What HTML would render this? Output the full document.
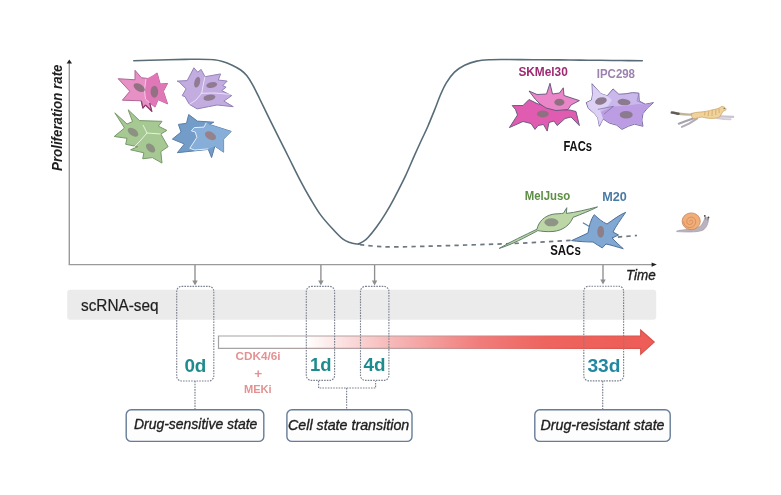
<!DOCTYPE html>
<html><head><meta charset="utf-8">
<style>
html,body{margin:0;padding:0;background:#fff;}
body{width:781px;height:495px;overflow:hidden;position:relative;}
svg{position:absolute;left:0;top:0;filter:blur(0.35px);}
text{font-family:"Liberation Sans",sans-serif;}
</style></head>
<body>
<svg width="781" height="495" viewBox="0 0 781 495">
<defs>
  <linearGradient id="rg" x1="218" y1="0" x2="655" y2="0" gradientUnits="userSpaceOnUse">
    <stop offset="0" stop-color="#ffffff"/>
    <stop offset="0.2" stop-color="#ffffff"/>
    <stop offset="0.39" stop-color="#f7baba"/>
    <stop offset="0.6" stop-color="#f07c7a"/>
    <stop offset="0.75" stop-color="#ee645e"/>
    <stop offset="1" stop-color="#ee5c56"/>
  </linearGradient>
  <linearGradient id="rgs" x1="218" y1="0" x2="655" y2="0" gradientUnits="userSpaceOnUse">
    <stop offset="0" stop-color="#a4a4a4"/>
    <stop offset="0.45" stop-color="#bca0a0"/>
    <stop offset="0.62" stop-color="#d88080"/>
    <stop offset="0.78" stop-color="#e0605c"/>
    <stop offset="1" stop-color="#d8504c"/>
  </linearGradient>
</defs>

<!-- gray band -->
<rect x="67.2" y="289.8" width="589" height="29.9" rx="3" fill="#ebebeb"/>

<!-- red gradient arrow -->
<path d="M218.5,336 L640.7,336 L640.7,330 L654.2,342.1 L640.7,354.2 L640.7,348.4 L218.5,348.4 Z" fill="url(#rg)" stroke="url(#rgs)" stroke-width="1.2"/>

<!-- axes -->
<line x1="69.3" y1="63" x2="69.3" y2="264.6" stroke="#9a9a9a" stroke-width="1.4"/>
<line x1="68.6" y1="264.6" x2="652" y2="264.6" stroke="#9a9a9a" stroke-width="1.4"/>
<path d="M69.3,59.4 L72,63.6 L66.6,63.6 Z" fill="#222"/>
<path d="M656.8,264.6 L651.6,262.4 L651.6,266.8 Z" fill="#222"/>

<!-- proliferation curve -->
<g fill="none" stroke="#586c78" stroke-width="1.6" stroke-linecap="round">
<path d="M133.8,60.8 C138.2,60.7 151.5,60.2 160.0,60.0 C168.5,59.8 178.6,59.5 185.0,59.4 C191.4,59.3 193.4,59.2 198.2,59.2 C203.0,59.2 209.9,59.3 214.0,59.7 C218.1,60.1 219.5,60.5 222.5,61.4 C225.5,62.3 229.2,63.8 232.2,65.2 C235.2,66.6 238.3,68.3 240.7,70.0 C243.1,71.7 244.7,73.1 246.7,75.6 C248.7,78.1 250.7,81.4 252.8,85.2 C254.9,89.0 256.6,92.6 259.5,98.5 C262.4,104.4 266.8,113.5 270.3,120.6 C273.8,127.6 277.2,134.4 280.4,140.8 C283.6,147.2 286.2,152.4 289.5,159.0 C292.8,165.6 296.7,173.7 300.2,180.3 C303.7,186.9 306.9,192.8 310.3,198.5 C313.7,204.2 316.7,209.5 320.4,214.6 C324.1,219.7 328.8,224.8 332.5,228.8 C336.2,232.9 339.7,236.6 342.6,238.9 C345.5,241.2 347.9,241.8 350.0,242.6 C352.1,243.4 353.4,243.6 355.0,243.8 C356.6,244.0 358.8,244.0 359.5,244.0"/>
<path d="M358.5,244.1 C359.2,243.7 361.4,242.6 363.0,241.6 C364.6,240.6 365.5,240.3 367.8,237.8 C370.1,235.3 373.7,230.8 376.7,226.7 C379.7,222.6 382.7,218.1 385.6,213.3 C388.6,208.5 391.1,204.1 394.4,197.8 C397.7,191.5 402.3,182.6 405.6,175.6 C408.9,168.6 411.6,161.8 414.4,155.6 C417.2,149.4 419.9,143.4 422.2,138.5 C424.5,133.6 426.0,130.7 428.0,126.0 C430.0,121.3 432.2,115.8 434.3,110.6 C436.4,105.4 438.4,99.7 440.4,95.0 C442.4,90.3 444.1,86.4 446.5,82.6 C448.9,78.8 451.5,75.1 454.5,72.2 C457.5,69.3 460.9,67.0 464.6,65.2 C468.3,63.4 472.4,62.0 476.8,61.1 C481.2,60.2 486.2,60.0 490.9,59.7 C495.6,59.4 500.1,59.5 505.0,59.5 C509.9,59.5 514.2,59.6 520.0,59.6 C525.8,59.6 533.3,59.7 540.0,59.8 C546.7,59.8 553.3,59.8 560.0,59.9 C566.7,60.0 573.3,60.0 580.0,60.1 C586.7,60.2 593.2,60.2 600.0,60.3 C606.8,60.4 614.0,60.5 621.0,60.5 C628.0,60.6 638.8,60.8 642.3,60.8"/>
</g>
<path d="M360,244.6 C372,246.2 385,247.2 400,246.9 C430,246.2 470,245 510,243.6 C550,242 595,239 637,235.5" fill="none" stroke="#6c7882" stroke-width="1.7" stroke-dasharray="4.4,4.2"/>

<!-- down arrows from x-axis -->
<g stroke="#8e8e8e" stroke-width="1.35" fill="#8e8e8e">
<line x1="195" y1="265" x2="195" y2="281"/><path d="M195,285.5 L192.3,280.5 L197.7,280.5 Z" stroke="none"/>
<line x1="320.9" y1="265" x2="320.9" y2="281"/><path d="M320.9,285.5 L318.2,280.5 L323.6,280.5 Z" stroke="none"/>
<line x1="374.6" y1="265" x2="374.6" y2="281"/><path d="M374.6,285.5 L371.9,280.5 L377.3,280.5 Z" stroke="none"/>
<line x1="603" y1="265" x2="603" y2="280"/><path d="M603,284.5 L600.3,279.5 L605.7,279.5 Z" stroke="none"/>
</g>

<!-- dashed day boxes -->
<g fill="none" stroke="#7a828e" stroke-width="1.15" stroke-dasharray="1.6,1.1">
<rect x="176.7" y="286.4" width="37.1" height="94.6" rx="5"/>
<rect x="306.3" y="286.4" width="28.3" height="94" rx="5"/>
<rect x="360.5" y="286.4" width="28.4" height="94" rx="5"/>
<rect x="583.8" y="286.2" width="39.8" height="94.6" rx="5"/>
<path d="M195,381 V409.3"/>
<path d="M602.7,381 V409.3"/>
<path d="M318.6,381 V388 H375.6 V381"/>
<path d="M346.6,388 V409.3"/>
</g>

<!-- label boxes -->
<g fill="#fdfdfe" stroke="#677c98" stroke-width="1.4">
<rect x="126.2" y="409.8" width="137.6" height="31.6" rx="5"/>
<rect x="286.9" y="409.8" width="125.1" height="31.6" rx="5"/>
<rect x="534.8" y="409.8" width="135.4" height="31.6" rx="5"/>
</g>

<!-- texts -->
<text transform="translate(62.2,171) rotate(-90)" font-size="13.8" font-weight="bold" font-style="italic" fill="#1e1e1e" textLength="106.5" lengthAdjust="spacingAndGlyphs">Proliferation rate</text>
<text x="626" y="279.8" font-size="14" font-style="italic" fill="#1e1e1e" stroke="#1e1e1e" stroke-width="0.35" textLength="29.8" lengthAdjust="spacingAndGlyphs">Time</text>
<text x="81" y="310.8" font-size="16" fill="#1e1e1e" stroke="#1e1e1e" stroke-width="0.2" textLength="77.6" lengthAdjust="spacingAndGlyphs">scRNA-seq</text>
<g font-weight="bold" fill="#1e8c8e">
<text x="184.4" y="371.8" font-size="18.5" textLength="22" lengthAdjust="spacingAndGlyphs">0d</text>
<text x="310" y="371" font-size="18.5" textLength="21.5" lengthAdjust="spacingAndGlyphs">1d</text>
<text x="363.5" y="371" font-size="18.5" textLength="22" lengthAdjust="spacingAndGlyphs">4d</text>
<text x="587.4" y="371.8" font-size="18.5" textLength="33" lengthAdjust="spacingAndGlyphs" fill="#2288a2">33d</text>
</g>
<g fill="#e39294" font-size="10.5" font-weight="bold">
<text x="235.6" y="360.2" textLength="45" lengthAdjust="spacingAndGlyphs">CDK4/6i</text>
<text x="254.2" y="378" font-size="13.5">+</text>
<text x="243.9" y="392.8" textLength="27.8" lengthAdjust="spacingAndGlyphs">MEKi</text>
</g>
<g font-size="14.2" font-style="italic" fill="#1e1e1e" stroke="#1e1e1e" stroke-width="0.35">
<text x="133.9" y="428.8" textLength="123.5" lengthAdjust="spacingAndGlyphs">Drug-sensitive state</text>
<text x="288" y="429.8" textLength="121.3" lengthAdjust="spacingAndGlyphs">Cell state transition</text>
<text x="540.5" y="429.9" textLength="124" lengthAdjust="spacingAndGlyphs">Drug-resistant state</text>
</g>
<g font-weight="bold">
<text x="518.4" y="76.3" font-size="12.2" fill="#9e2a72" textLength="49.4" lengthAdjust="spacingAndGlyphs">SKMel30</text>
<text x="596.8" y="77.9" font-size="12.2" fill="#9c82ae" textLength="38.2" lengthAdjust="spacingAndGlyphs">IPC298</text>
<text x="563.4" y="150.6" font-size="14.2" fill="#111" textLength="28.6" lengthAdjust="spacingAndGlyphs">FACs</text>
<text x="524.7" y="200" font-size="12.3" fill="#5e8e46" textLength="45.6" lengthAdjust="spacingAndGlyphs">MelJuso</text>
<text x="602.3" y="200.9" font-size="12.3" fill="#4a7aa2" textLength="24.6" lengthAdjust="spacingAndGlyphs">M20</text>
<text x="550.2" y="255.3" font-size="14.2" fill="#111" textLength="30.6" lengthAdjust="spacingAndGlyphs">SACs</text>
</g>

<!-- CELLS: pink cluster -->
<g stroke-linejoin="round">
<path d="M118.2,78.7 L135,79.8 L135,70.3 L141.3,77.7 L149.7,78.7 L157.1,72.9 L160.2,84 L167.6,83.4 L163.4,91.3 L167.6,103.9 L158.1,99.7 L155,107.1 L149.7,102.9 L151.8,111.3 L145.5,105 L142.9,108.1 L141.3,100.8 L122.4,100.2 L129.8,91.3 Z" fill="#e690c6" stroke="#b06692" stroke-width="1"/>
<path d="M146,79 L157.1,72.9 L160.2,84 L167.6,83.4 L163.4,91.3 L167.6,103.9 L158.1,99.7 L155,107.1 L149.7,102.9 L145.5,99 L144.5,90 Z" fill="#e078b8"/>
<path d="M146,79 L144.5,90 L145.5,99 L149.7,102.9" fill="none" stroke="#f6d0e8" stroke-width="0.9"/>
<path d="M149.7,102.9 L151.8,111.3 L145.5,105 M145.5,105 L142.9,108.1 L141.3,100.8" fill="none" stroke="#8a3c6c" stroke-width="1.2"/>
<ellipse cx="139.2" cy="87.6" rx="6.2" ry="3.5" transform="rotate(30 139.2 87.6)" fill="#907282"/>
<ellipse cx="154.4" cy="91.8" rx="3.8" ry="6" fill="#907282"/>

<!-- purple cluster -->
<path d="M177.2,81.1 L187.2,80.6 L193.9,67.8 L197.8,72.2 L201.1,69.4 L205,76.7 L220.6,73.9 L218.3,80 L227.2,81.1 L222.8,85.6 L226.1,87.2 L221.7,90.6 L231.7,95.6 L223.9,101.1 L233.3,106.7 L217.2,105 L208.3,106.7 L197.2,108.9 L189.4,104.4 L185,96.7 L182.2,95.6 L186.1,88.9 L179.4,82.2 Z" fill="#c2ace0" stroke="#9282b8" stroke-width="1"/>
<path d="M205,76.7 L203,86 L201.7,93.3 M200.6,93.3 L215,93 L230.6,94.4 M201.7,93.3 L196,100 L189.4,104.4" fill="none" stroke="#efe6fa" stroke-width="0.9"/>
<ellipse cx="197.2" cy="82.2" rx="2.8" ry="5.5" transform="rotate(15 197.2 82.2)" fill="#907c92"/>
<ellipse cx="211.7" cy="85" rx="5.5" ry="2.8" transform="rotate(-10 211.7 85)" fill="#907c92"/>
<ellipse cx="209.4" cy="97.6" rx="6" ry="3" transform="rotate(-10 209.4 97.6)" fill="#907c92"/>

<!-- green cluster -->
<path d="M114.8,112.8 L127,124 L132.5,121.6 L128.2,109.8 L139.5,120.6 L162,121.3 L158.4,126.2 L166.9,130.4 L160.8,134 L168.1,146.7 L160.8,151.6 L162,163.1 L152.4,157.6 L142.7,158.8 L143.9,152.8 L130.6,149.8 L137.8,146.7 L125.7,144.3 L127,138.3 L114.2,136.5 L124.5,128 Z" fill="#a6c892" stroke="#78986a" stroke-width="1"/>
<path d="M143,125 L147,133 L140,141 L133,148 M147,133 L160.8,134" fill="none" stroke="#eef6e8" stroke-width="0.9"/>
<ellipse cx="133" cy="132.2" rx="6" ry="3.5" transform="rotate(35 133 132.2)" fill="#8c9282"/>
<ellipse cx="150.6" cy="148" rx="5.5" ry="3.5" transform="rotate(45 150.6 148)" fill="#8c9282"/>

<!-- blue cluster -->
<path d="M188.7,114.5 L197.4,121.1 L213.8,122.2 L209.4,124.4 L231.2,131.4 L223.6,139.1 L223.6,152.2 L214.9,146.2 L211.6,157.6 L208.3,149.4 L177.3,152.7 L184.4,144 L172.4,139.1 L181.1,132 L178.4,124.4 L186.5,123.3 Z" fill="#739cc8" stroke="#587ea6" stroke-width="1"/>
<path d="M206.2,122.7 L209.4,124.4 L231.2,131.4 L223.6,139.1 L223.6,152.2 L214.9,146.2 L208.3,148.9 L194.7,150 L189.8,148.3 L196.9,137.4 L195.3,132 L191.4,130.9 L194.2,127.6 L204,127.1 Z" fill="#86aed8" stroke="none"/>
<path d="M206.2,122.7 L204,127.1 L194.2,127.6 L191.4,130.9 L195.3,132 L196.9,137.4 L189.8,148.3 L194.7,150 L208.3,148.9" fill="none" stroke="#e2eefa" stroke-width="1"/>
<ellipse cx="210.5" cy="135.8" rx="6" ry="3.8" transform="rotate(30 210.5 135.8)" fill="#96828a"/>

<!-- SKMel30 magenta -->
<g stroke="#5e5478" stroke-width="0.9" stroke-linejoin="miter" stroke-miterlimit="10">
<path d="M512.2,105.6 L523,105.5 L529,99.5 L537,103.5 L548,107 L560,109.5 L570,110 L576,111.5 L579.4,125.6 L571,117 L565,118.5 L557.2,125.6 L554,121 L549,122.5 L547.2,131.1 L543.5,124.5 L538,125.5 L535,129.4 L531,123.5 L523,121.5 L509.4,127.6 L517.5,115 L515.5,109.5 Z" fill="#e05cb0"/>
<path d="M529,91 L537,94.5 L546.5,94 L550,83.3 L552.5,94 L559.5,93 L563.3,87.8 L564,95.5 L570,97.5 L579.4,100.6 L571,105 L568,109.5 L556,110.5 L546,108 L540,104 L535.5,99.5 Z" fill="#ea86c8"/>
</g>
<ellipse cx="559.4" cy="102.2" rx="5" ry="3.5" fill="#8e7080"/>
<ellipse cx="542.8" cy="113.9" rx="6" ry="3.5" fill="#8e7080"/>

<!-- IPC298 lavender -->
<g stroke-linejoin="round">
<path d="M592,83.7 L600.9,93.7 L607.2,95.8 L613,88.9 L618.8,94.2 L626.2,93.7 L632.5,92.6 L638.8,93.1 L639.3,101 L645.1,104.2 L653.5,102.6 L647.2,108.4 L643,113.6 L641.9,120 L643,126.3 L634.6,124.2 L628.3,126.3 L622,129.4 L616.7,125.2 L609.3,123.1 L603,118.9 L599.4,126.3 L597.8,117.9 L594.6,113.6 L588.3,108.4 L586.2,102.6 L591.5,100 L592.5,94.7 Z" fill="#cab8ec" stroke="#7e72a4" stroke-width="1"/>
<path d="M592.5,85 L600.9,93.7 L607.2,95.8 L612,100 L608,106 L600,110.5 L603,118.9 L599.4,125.5 L597.8,117.9 L594.6,113.6 L588.5,108 L587,102.8 L591.8,100 L592.8,94.7 Z" fill="#dcd0f4"/>
<path d="M601,112 L612,106.5 L625,106 L638,104 L645.1,104.4 L652,103.2 L646.6,108.2 L642.4,113.6 L641.3,120 L642.2,125.5 L634.6,123.6 L628.3,125.6 L622,128.6 L616.9,124.6 L609.5,122.5 L603.4,118.6 Z" fill="#bc9ce2"/>
<path d="M597.8,109.4 L613.5,106.3 L604,114" fill="none" stroke="#8072a8" stroke-width="0.8"/>
<path d="M638.8,93.5 L637,101 L645,104" fill="none" stroke="#8c80b4" stroke-width="0.7"/>
</g>
<ellipse cx="600.9" cy="101" rx="6" ry="3.5" transform="rotate(-15 600.9 101)" fill="#8c7a8e"/>
<ellipse cx="624" cy="102.1" rx="6.5" ry="3.2" transform="rotate(5 624 102.1)" fill="#8c7a8e"/>
<ellipse cx="626.2" cy="114.7" rx="6.5" ry="3.8" fill="#8c7a8e"/>

<!-- MelJuso spindle -->
<path d="M499.2,248.4 C510,242 525,235 537,229.2 C538.5,222 544,216 553,214.2 C557,213.6 561,213.8 563.5,213.2 L566.8,207.7 L566.4,213.4 C575,212.6 587,209.5 597.5,206.9 C590,210.8 581,214.2 573,217.4 C570,225 563,230.5 553,231.5 C546,232 541,231.2 537.8,230.6 C525,237.5 512,244.5 499.2,248.4 Z" fill="#bcd6a6" stroke="#62806a" stroke-width="1"/>
<ellipse cx="551.4" cy="222.3" rx="7" ry="4" fill="#8e9486"/>

<!-- M20 blue -->
<path d="M582.9,222.8 L592,228" stroke="#5a80aa" stroke-width="1.2"/>
<path d="M571.6,240.6 L588,233 C589,226 591,219 594.2,214.7 C598,218 602,222 607,224 C613,220 619,215 625.7,212.3 C621,219 616,226 613,232 L618.5,235 L612,238 C616,242 620,246 623.3,248.7 C617,247 611,245 606,244 L602.3,247.9 C599,246 596,244 593,242 C586,242 578,241.5 571.6,240.6 Z" fill="#80a8d2" stroke="#4e7098" stroke-width="1"/>
<ellipse cx="600.7" cy="231.7" rx="3.4" ry="6" fill="#8e7e88"/>
</g>

<!-- cheetah -->
<g stroke-linecap="round" stroke-linejoin="round" fill="none">
<path d="M677,113.5 C683,114.4 688,114.8 693,114.4" stroke="#c4b496" stroke-width="2.3"/>
<path d="M671.8,112.6 C674,113 676,113.3 678.5,113.7" stroke="#605c5c" stroke-width="2.5"/>
<path d="M694.5,118 L686,121 L678.8,123.7" stroke="#a6a2ae" stroke-width="2.1"/>
<path d="M697,118.6 L689,123.6 L681.9,126.9" stroke="#b0acb8" stroke-width="2.1"/>
<path d="M719,116.4 L726,116.6 L733.2,116.9" stroke="#cbc3cf" stroke-width="2.1"/>
<path d="M717,118 L724,119 L730.6,119.3" stroke="#d4ccd6" stroke-width="1.9"/>
<path d="M691.7,113.4 C694,112.6 697,112.2 699.4,112.1 C702,112 704,111.6 706.5,111.2 C709,110.8 710.5,110.3 711.9,109.9 C713.5,109.5 715,109.3 716.4,109 C718,108.5 719,108 720,107.6 L721.8,106.3 C722.8,106.5 723.8,106.8 724.5,107.2 C725.3,107.8 726,108.4 726.2,109 C726.2,109.7 725.8,110.1 725.3,110.3 C724.6,110.7 723.8,111 723.1,111.2 C722.6,111.9 722.2,112.6 721.8,113.4 C721.3,114.5 720.7,115.6 720,116.6 C719.2,117.3 718.2,117.7 717.3,117.9 C715,118.3 713,118.4 711,118.4 C709,118.4 707.3,118.2 705.6,117.9 C704.3,117.6 703.2,117.2 702,117 C700.5,117.2 699,117.5 697.6,117.9 C696.3,118.3 695.1,118.7 694,118.8 C692.8,118.5 692,117.6 691.7,116.6 C691.4,115.5 691.4,114.4 691.7,113.4 Z" fill="#efd29c" stroke="#c8a064" stroke-width="0.7"/>
<path d="M705,111.8 L704.6,115 M708.6,111.3 L708.2,115.8 M712.2,110.4 L712,115.6 M715.8,109.6 L715.8,114.6 M719,108.8 L719.2,112.6" stroke="#d6ac68" stroke-width="0.9"/>
<circle cx="724.2" cy="108.4" r="0.55" fill="#5a4a30" stroke="none"/>
</g>
<!-- snail -->
<g>
<path d="M676.7,231 C684,229 695,229.5 700,226.5 C703,224 704,220 705.2,217.6 C706.5,216.8 708.4,217.6 708.6,219 C708.2,223 707,227 704,229.5 C700,232.2 690,232.4 676.7,231.6 Z" fill="#bab2bc" stroke="#9c96a4" stroke-width="0.6"/>
<line x1="704.9" y1="216" x2="705.4" y2="219.5" stroke="#777" stroke-width="0.8"/>
<line x1="708.4" y1="217.6" x2="707.6" y2="220.5" stroke="#777" stroke-width="0.8"/>
<circle cx="704.8" cy="215.8" r="0.9" fill="#444"/>
<circle cx="708.5" cy="217.4" r="0.9" fill="#444"/>
<ellipse cx="691.2" cy="221.3" rx="9.1" ry="8.4" fill="#f0ae78" stroke="#c6875a" stroke-width="0.8"/>
<path d="M691.2,221.6 m-1.5,0 a1.5,1.5 0 1,1 3,0 a3,3 0 1,1 -6,0 a4.5,4.5 0 1,1 9,0 a6,6 0 1,1 -12,0" fill="none" stroke="#d88c5a" stroke-width="0.9"/>
</g>
</svg>
</body></html>
